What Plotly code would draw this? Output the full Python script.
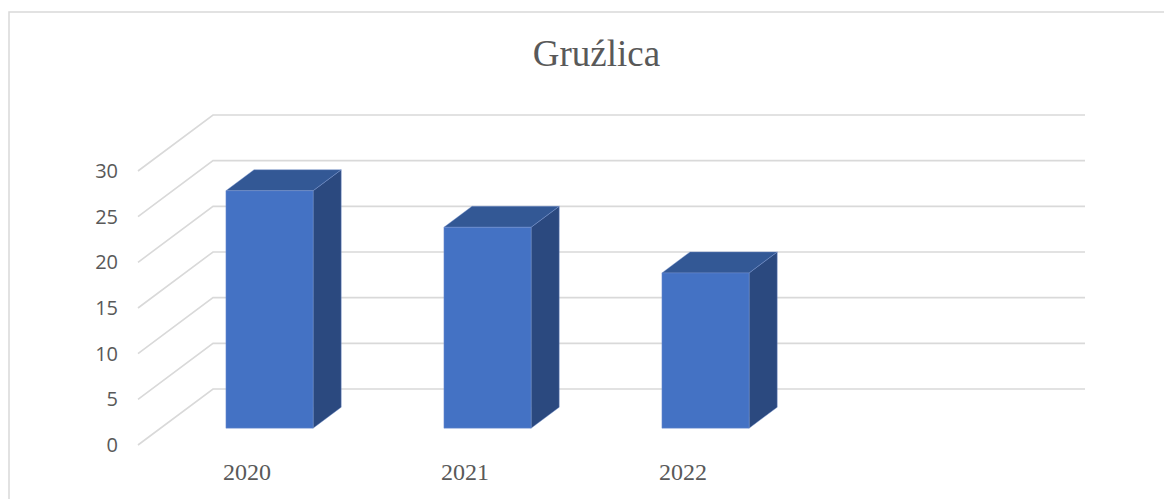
import plotly.graph_objects as go

# ---- data ----
title_text = "Gruźlica"
categories = ["2020", "2021", "2022", ""]
values = [26, 22, 17]
y_ticks = [0, 5, 10, 15, 20, 25, 30]

# ---- layout / projection constants ----
# (page body has an 8px margin, so figure coords = page coords - 8)
W, H = 1172, 499
OFF = 8
ML, MR, MT, MB = 125 - OFF, 75 + OFF, 110 - OFF, 48 + OFF
KX = 218.0          # px per category unit
KY = 274.0 / 30.0   # px per value unit
DX = 75.0 / KX      # full floor depth offset (x units)
DY = 56.0 / KY      # full floor depth offset (y units)
D0, D1 = 0.30, 0.675  # bar front / back depth fraction
BW = 0.4            # bar width in category units

PW = W - ML - MR
PH = H - MT - MB
x_start = -0.5 - 13.0 / KX
x_range = [x_start, x_start + PW / KX]
y_start = -6.0 / KY
y_range = [y_start, y_start + PH / KY]

GRID = "#D9D9D9"
FRONT = "#4472C4"
TOP = "#335895"
SIDE = "#2B497F"
TEXT = "#595959"

fig = go.Figure()

# gridlines: left wall diagonal + back wall horizontal
gx, gy = [], []
n_cat = len(categories)
for v in y_ticks:
    gx += [-0.5, -0.5 + DX, n_cat - 0.5 + DX, None]
    gy += [v, v + DY, v + DY, None]
fig.add_trace(go.Scatter(x=gx, y=gy, mode="lines",
                         line=dict(color=GRID, width=1.6),
                         hoverinfo="skip", showlegend=False))

# 3D-looking bars
ddx = (D1 - D0) * DX
ddy = (D1 - D0) * DY
for i, v in enumerate(values):
    xl = i - BW / 2 + D0 * DX
    xr = i + BW / 2 + D0 * DX
    yb = D0 * DY
    yt = v + D0 * DY
    side = ([xr, xr + ddx, xr + ddx, xr, xr],
            [yb, yb + ddy, yt + ddy, yt, yb], SIDE)
    top = ([xl, xr, xr + ddx, xl + ddx, xl],
           [yt, yt, yt + ddy, yt + ddy, yt], TOP)
    front = ([xl, xr, xr, xl, xl],
             [yb, yb, yt, yt, yb], FRONT)
    for px, py, col in (side, top, front):
        fig.add_trace(go.Scatter(
            x=px, y=py, mode="lines", fill="toself", fillcolor=col,
            line=dict(color="rgba(120,150,210,0.6)", width=0.7),
            hoverinfo="skip", showlegend=False))

# chart frame (left/top edges visible; right/bottom outside the view)
fx0 = (1.0 - ML) / PW
fx1 = (W + 20 - ML) / PW
fy1 = ((H - MB) - (12 - OFF)) / PH
fy0 = ((H - MB) - (H + 20)) / PH
fig.add_shape(type="rect", xref="paper", yref="paper",
              x0=fx0, x1=fx1, y0=fy0, y1=fy1,
              line=dict(color=GRID, width=1.5), layer="below")

fig.update_layout(
    width=W, height=H,
    margin=dict(l=ML, r=MR, t=MT, b=MB, pad=0),
    paper_bgcolor="white", plot_bgcolor="white",
    showlegend=False,
    title=dict(text=title_text, x=(596.5 - OFF) / W, xanchor="center",
               y=1 - (53.0 - OFF) / H, yanchor="middle", yref="container",
               font=dict(family="Liberation Serif", size=37, color=TEXT)),
    xaxis=dict(range=x_range, tickmode="array",
               tickvals=list(range(n_cat)), ticktext=categories,
               showgrid=False, zeroline=False, showline=False, ticks="",
               tickfont=dict(family="Liberation Serif", size=24, color=TEXT),
               ticklabelstandoff=4, fixedrange=True),
    yaxis=dict(range=y_range, tickmode="array", tickvals=y_ticks,
               ticktext=[str(t) for t in y_ticks],
               showgrid=False, zeroline=False, showline=False, ticks="",
               tickfont=dict(family="Open Sans", size=20, color=TEXT),
               ticklabelstandoff=6, fixedrange=True),
)

fig.write_html("out.html")
